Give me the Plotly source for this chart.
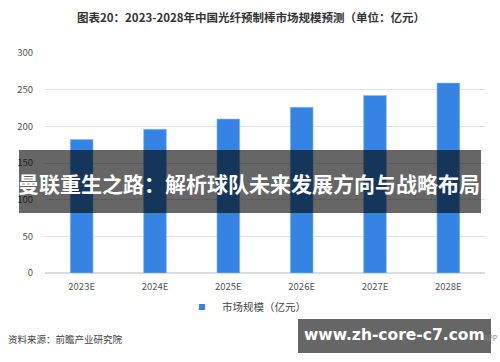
import plotly.graph_objects as go

categories = ["2023E", "2024E", "2025E", "2026E", "2027E", "2028E"]
market_size = [182, 196, 210, 226, 242, 259]
y_ticks = [0, 50, 100, 150, 200, 250, 300]

title_text = "图表20：2023-2028年中国光纤预制棒市场规模预测（单位：亿元）"
legend_name = "市场规模（亿元）"
source_text = "资料来源：前瞻产业研究院"
banner_text = "曼联重生之路：解析球队未来发展方向与战略布局"
watermark_text = "www.zh-core-c7.com"

W, H = 500, 362
FONT = "Noto Sans CJK SC, Noto Sans, sans-serif"
BLUE = "#3584e4"
L, R, T, B = 45, 15, 53, 89
PW, PH = W - L - R, H - T - B


def ax(x):
    return (x - L) / PW


def ay(y):
    return (H - B - y) / PH


fig = go.Figure()
fig.add_trace(go.Bar(
    x=categories, y=market_size, name=legend_name, showlegend=False,
    marker=dict(color=BLUE, line=dict(color="#8fbaf0", width=0.6)),
    width=0.31,
))
# legend entry (small square like reference)
fig.add_trace(go.Scatter(
    x=[categories[0]], y=[None], mode="markers", name=legend_name,
    marker=dict(symbol="square", size=6, color=BLUE), showlegend=True,
))

fig.update_layout(
    width=W, height=H,
    margin=dict(l=L, r=R, t=T, b=B, autoexpand=False),
    paper_bgcolor="white", plot_bgcolor="white",
    font=dict(family=FONT, size=10, color="#555"),
    showlegend=True,
    legend=dict(orientation="h", xref="container", yref="container",
                x=182 / W, xanchor="left", y=1 - 307 / H, yanchor="middle",
                font=dict(size=10.5, color="#444", family=FONT),
                bgcolor="rgba(0,0,0,0)", borderwidth=0),
    xaxis=dict(showgrid=False, showline=False, ticks="",
               tickfont=dict(size=9.5, color="#555"), ticklabelstandoff=6),
    yaxis=dict(range=[0, 300], tickvals=y_ticks, gridcolor="#e3e3e3", gridwidth=1,
               zeroline=True, zerolinecolor="#dcdcdc", zerolinewidth=2,
               showline=False, ticks="", tickfont=dict(size=9.5, color="#555"),
               ticklabelstandoff=11),
    bargap=0.69,
)

shapes = [
    dict(type="rect", xref="paper", yref="paper", layer="above",
         x0=ax(19), x1=ax(481), y0=ay(213), y1=ay(150),
         fillcolor="rgba(0,0,0,0.6)", line=dict(width=0)),
    dict(type="rect", xref="paper", yref="paper", layer="above",
         x0=ax(298), x1=ax(491), y0=ay(353), y1=ay(319),
         fillcolor="rgba(0,0,0,0.6)", line=dict(width=0)),
]
fig.update_layout(shapes=shapes)

annotations = [
    dict(text="<b>" + title_text + "</b>", x=ax(251), y=ay(17), xref="paper", yref="paper",
         showarrow=False, font=dict(size=11.5, color="#333", family=FONT),
         xanchor="center", yanchor="middle"),
    dict(text=source_text, x=ax(6), y=ay(339), xref="paper", yref="paper",
         showarrow=False, font=dict(size=9.5, color="#444", family=FONT),
         xanchor="left", yanchor="middle"),
    dict(text="APP", x=ax(500), y=ay(338), xref="paper", yref="paper",
         showarrow=False, font=dict(size=7, color="#888", family=FONT),
         xanchor="right", yanchor="middle"),
    dict(text="<b>" + banner_text + "</b>", x=ax(249), y=ay(183), xref="paper", yref="paper",
         showarrow=False, font=dict(size=21, color="white", family=FONT),
         xanchor="center", yanchor="middle"),
    dict(text="<b>" + watermark_text + "</b>", x=ax(394), y=ay(335), xref="paper", yref="paper",
         showarrow=False, font=dict(size=15.5, color="white", family="DejaVu Sans, sans-serif"),
         xanchor="center", yanchor="middle"),
]
fig.update_layout(annotations=annotations)

fig.write_html("out.html", config={"displayModeBar": False},
               post_script="document.body.style.margin='0';document.body.style.overflow='hidden';")
